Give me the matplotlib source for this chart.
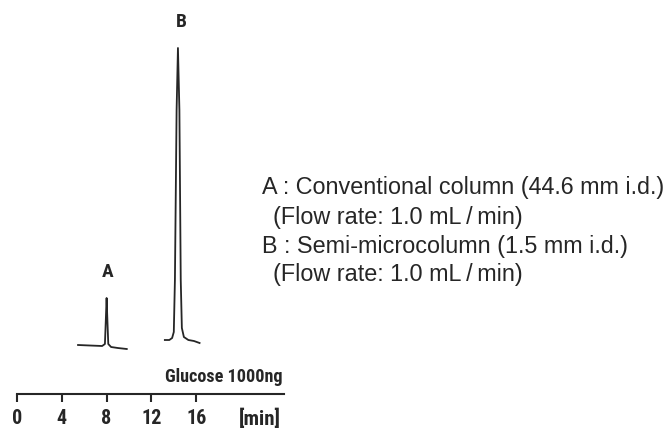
import matplotlib
matplotlib.use("Agg")
import matplotlib.pyplot as plt

# chromatogram A: conventional column, time [min] vs detector signal (rel.)
time_a = [5.45, 6.5, 7.6, 7.85, 7.93, 8.0, 8.07, 8.15, 8.4, 9.0, 9.8]
signal_a = [0, -0.5, -1, 1, 25, 47, 25, 1, -2, -3, -4]

# chromatogram B: semi-microcolumn
time_b = [13.2, 13.6, 13.85, 14.0, 14.1, 14.25, 14.37, 14.5, 14.62, 14.72, 14.9, 15.3, 15.8, 16.3]
signal_b = [0, 0, 2, 8, 60, 230, 292, 230, 60, 12, 3, 0, -1, -3]

peak_labels = ["A", "B"]
tick_vals = [0, 4, 8, 12, 16]
tick_labels = ["0", "4", "8", "12", "16"]
legend_lines = [
    "A : Conventional column (44.6 mm i.d.)",
    "(Flow rate: 1.0 mL\u2009/\u2009min)",
    "B : Semi-microcolumn (1.5 mm i.d.)",
    "(Flow rate: 1.0 mL\u2009/\u2009min)",
]

fig = plt.figure(figsize=(6.65, 4.28), dpi=100)
ax = fig.add_axes([0, 0, 1, 1])
ax.set_xlim(-17 / 11.2, (665 - 17) / 11.2)
ax.set_ylim(-34, 394)

# baselines of the two traces (vertical offsets)
base_a = 49
base_b = 54
ink = "#262626"
ax.plot(time_a, [s + base_a for s in signal_a], color=ink, lw=1.3)
ax.plot(time_b, [s + base_b for s in signal_b], color=ink, lw=1.3)

cond = dict(family=["Roboto Condensed", "Liberation Sans"], fontweight="bold", color=ink)
ax.text(8.1, base_a + 73, peak_labels[0], ha="center", va="center", fontsize=14, **cond)
ax.text(14.7, base_b + 318, peak_labels[1], ha="center", va="center", fontsize=14, **cond)

# time axis
for side in ["top", "left", "right"]:
    ax.spines[side].set_visible(False)
ax.spines["bottom"].set_position(("data", 0))
ax.spines["bottom"].set_bounds(0, 23.8)
ax.spines["bottom"].set_linewidth(1.5)
ax.spines["bottom"].set_color(ink)
ax.set_xticks(tick_vals)
ax.set_xticklabels(tick_labels, fontsize=14.5, **cond)
ax.tick_params(axis="x", direction="out", length=6, width=1.5, color=ink, pad=5)
ax.set_yticks([])
ax.text(21.7, -25, "[min]", ha="center", va="center", fontsize=15, **cond)
ax.text(13.2, 17, "Glucose 1000ng", ha="left", va="center", fontsize=13.1, **cond)

# legend text
legend_x = [21.85, 22.85, 21.85, 22.85]
legend_y = [207, 177, 147, 119]
for line, x, y in zip(legend_lines, legend_x, legend_y):
    ax.text(x, y, line, ha="left", va="center", fontsize=16.8,
            family=["Liberation Sans", "DejaVu Sans"], color=ink)

fig.savefig("out.png", dpi=100)
